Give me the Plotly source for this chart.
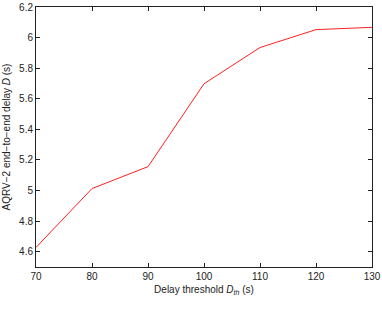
import plotly.graph_objects as go

thresholds = [70, 80, 90, 100, 110, 120, 130]
delays = [4.628, 5.013, 5.156, 5.698, 5.935, 6.052, 6.067]
x_ticks = [70, 80, 90, 100, 110, 120, 130]
y_ticks = [4.6, 4.8, 5.0, 5.2, 5.4, 5.6, 5.8, 6.0, 6.2]
y_labels = ["4.6", "4.8", "5", "5.2", "5.4", "5.6", "5.8", "6", "6.2"]

font_fam = "Liberation Sans, Arial"

fig = go.Figure()
fig.add_trace(go.Scatter(x=thresholds, y=delays, mode="lines",
                         line=dict(color="#ff2020", width=1), showlegend=False))

axis_common = dict(showline=True, linecolor="#222", linewidth=1, mirror="ticks",
                   ticks="inside", ticklen=4, tickcolor="#222", showgrid=False,
                   zeroline=False, ticklabeloverflow="allow",
                   tickfont=dict(family=font_fam, size=10, color="#222"))

fig.update_xaxes(range=[70, 130], tickvals=x_ticks, ticktext=[str(v) for v in x_ticks],
                 title=dict(text="Delay threshold <i>D</i><sub><i>th</i></sub> (s)",
                            font=dict(family=font_fam, size=10, color="#222"), standoff=4),
                 **axis_common)
fig.update_yaxes(range=[4.5, 6.2], tickvals=y_ticks, ticktext=y_labels,
                 title=dict(text="AQRV\u22122 end\u2212to\u2212end delay <i>D</i> (s)",
                            font=dict(family=font_fam, size=10, color="#222"), standoff=6),
                 **axis_common)

fig.update_layout(width=382, height=309, margin=dict(l=35.5, r=8.5, t=1, b=42),
                  plot_bgcolor="white", paper_bgcolor="white")

fig.write_html("out.html")
